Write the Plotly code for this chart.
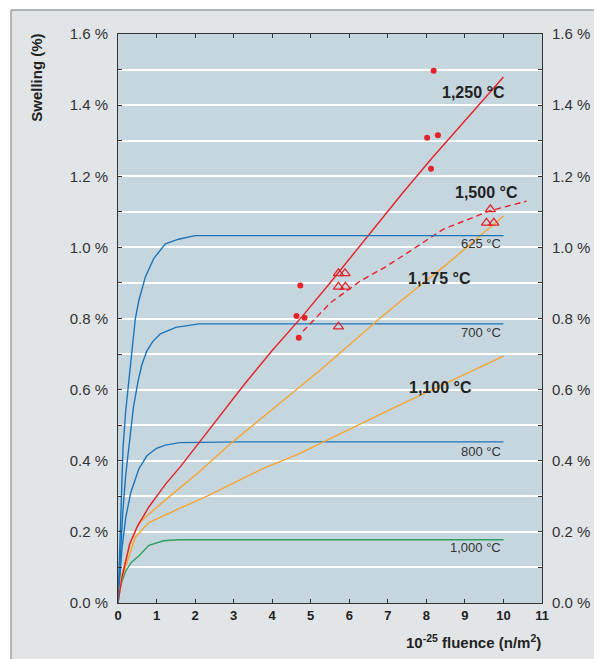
import plotly.graph_objects as go

# fluence (10^25 n/m2) vs swelling (%)
fl_625 = [0, 0.04, 0.08, 0.13, 0.2, 0.28, 0.36, 0.45, 0.54, 0.71, 0.93, 1.23, 1.57, 2.0, 10]
sw_625 = [0, 0.14, 0.28, 0.435, 0.54, 0.624, 0.7, 0.8, 0.85, 0.917, 0.969, 1.01, 1.023, 1.033, 1.033]

fl_700 = [0, 0.05, 0.12, 0.2, 0.3, 0.4, 0.52, 0.62, 0.75, 0.9, 1.1, 1.5, 2.1, 10]
sw_700 = [0, 0.12, 0.25, 0.36, 0.45, 0.55, 0.624, 0.67, 0.709, 0.735, 0.757, 0.775, 0.785, 0.785]

fl_800 = [0, 0.05, 0.1, 0.2, 0.33, 0.54, 0.75, 1.0, 1.23, 1.6, 3.2, 10]
sw_800 = [0, 0.09, 0.15, 0.24, 0.31, 0.377, 0.414, 0.435, 0.444, 0.451, 0.453, 0.453]

fl_1000 = [0, 0.05, 0.1, 0.2, 0.35, 0.54, 0.8, 1.18, 1.57, 10]
sw_1000 = [0, 0.04, 0.06, 0.09, 0.115, 0.132, 0.162, 0.175, 0.178, 0.178]

fl_1250 = [0, 0.1, 0.3, 0.5, 0.8, 1.24, 1.63, 2.1, 2.7, 3.28, 4.0, 4.78, 5.5, 6.2, 6.71,
           7.4, 8.12, 9.19, 10]
sw_1250 = [0, 0.07, 0.165, 0.215, 0.27, 0.335, 0.385, 0.45, 0.535, 0.615, 0.71, 0.806,
           0.9, 0.994, 1.06, 1.155, 1.248, 1.38, 1.479]

fl_1175 = [0, 0.1, 0.33, 0.54, 1.23, 2.08, 2.94, 4.65, 5.25, 6.79, 7.48, 8.5, 10]
sw_1175 = [0, 0.08, 0.17, 0.225, 0.29, 0.366, 0.45, 0.6, 0.655, 0.8, 0.862, 0.95, 1.088]

fl_1100 = [0, 0.1, 0.45, 0.8, 1.57, 2.34, 3.8, 4.65, 7.22, 10]
sw_1100 = [0, 0.07, 0.185, 0.226, 0.265, 0.302, 0.38, 0.417, 0.552, 0.694]

fl_1500 = [4.8, 5.51, 6.28, 6.97, 7.57, 8.42, 9.62, 10.6]
sw_1500 = [0.764, 0.844, 0.905, 0.947, 0.989, 1.05, 1.102, 1.13]

# measured points
pts_1250_x = [8.19, 8.02, 8.3, 8.12, 4.73, 4.63, 4.84, 4.69]
pts_1250_y = [1.497, 1.308, 1.315, 1.221, 0.893, 0.807, 0.802, 0.746]
pts_1500_x = [5.72, 5.89, 5.72, 5.9, 5.72, 9.66, 9.56, 9.75]
pts_1500_y = [0.927, 0.927, 0.889, 0.889, 0.777, 1.107, 1.069, 1.069]

big_labels = ["1,250 °C", "1,500 °C", "1,175 °C", "1,100 °C"]
big_x = [9.23, 9.55, 8.34, 8.36]
big_y = [1.435, 1.154, 0.912, 0.605]

small_labels = ["625 °C", "700 °C", "800 °C", "1,000 °C"]
small_y = [1.01, 0.76, 0.425, 0.155]

BLUE = "#1b75bb"
RED = "#e52228"
ORANGE = "#f7a531"
GREEN = "#2ea05e"
FONT = "Liberation Sans, Arial, sans-serif"

# page body adds an 8px margin, so the figure is 8px smaller than the window
OFF = 8
W, H = 602 - OFF, 659 - OFF
PL, PR, PT, PB = 118, 546, 34, 603   # plot area in window pixels


def px_x(p):
    return (p - PL) / (PR - PL)


def px_y(p):
    return (PB - p) / (PB - PT)


fig = go.Figure()

fig.add_trace(go.Scatter(x=fl_625, y=sw_625, mode="lines", yaxis="y2",
                         line=dict(color=BLUE, width=1.4)))
for xs, ys, col in [
    (fl_700, sw_700, BLUE),
    (fl_800, sw_800, BLUE),
    (fl_1000, sw_1000, GREEN),
    (fl_1100, sw_1100, ORANGE),
    (fl_1175, sw_1175, ORANGE),
    (fl_1250, sw_1250, RED),
]:
    fig.add_trace(go.Scatter(x=xs, y=ys, mode="lines",
                             line=dict(color=col, width=1.4)))

fig.add_trace(go.Scatter(x=fl_1500, y=sw_1500, mode="lines",
                         line=dict(color=RED, width=1.4, dash="6px,4px")))
fig.add_trace(go.Scatter(x=pts_1250_x, y=pts_1250_y, mode="markers",
                         marker=dict(color=RED, size=6, symbol="circle")))
fig.add_trace(go.Scatter(x=pts_1500_x, y=pts_1500_y, mode="markers",
                         marker=dict(color=RED, size=9, symbol="triangle-up-open",
                                     line=dict(width=1.2, color=RED))))

annotations = []
for txt, x, y in zip(big_labels, big_x, big_y):
    annotations.append(dict(x=x, y=y, text=txt, showarrow=False, xref="x", yref="y",
                            font=dict(size=16, color="#222", family=FONT, weight="bold")))
for txt, y in zip(small_labels, small_y):
    annotations.append(dict(x=10, y=y, text=txt, showarrow=False, xref="x", yref="y",
                            xanchor="right", font=dict(size=13, color="#333", family=FONT)))

annotations.append(dict(x=px_x(35), y=px_y(78), xref="paper", yref="paper",
                        xanchor="center", yanchor="middle",
                        text="Swelling (%)", textangle=-90, showarrow=False,
                        font=dict(size=15, color="#222", family=FONT, weight="bold")))
annotations.append(dict(x=px_x(547), y=px_y(641), xref="paper", yref="paper",
                        xanchor="right", yanchor="middle", showarrow=False,
                        text="10<sup>-25</sup> fluence (n/m<sup>2</sup>)",
                        font=dict(size=15, color="#222", family=FONT, weight="bold")))

# white margin + frame border at top and left
shapes = [
    dict(type="rect", xref="paper", yref="paper", x0=px_x(0), x1=px_x(620),
         y0=px_y(10), y1=px_y(0), fillcolor="white", line_width=0, layer="below"),
    dict(type="rect", xref="paper", yref="paper", x0=px_x(0), x1=px_x(10),
         y0=px_y(670), y1=px_y(0), fillcolor="white", line_width=0, layer="below"),
    dict(type="line", xref="paper", yref="paper", x0=px_x(10), x1=px_x(620),
         y0=px_y(10), y1=px_y(10), line=dict(color="#9aa2a8", width=1.5)),
    dict(type="line", xref="paper", yref="paper", x0=px_x(10), x1=px_x(10),
         y0=px_y(10), y1=px_y(670), line=dict(color="#9aa2a8", width=1.5)),
]

yaxis_common = dict(
    range=[0, 1.6], dtick=0.2, tickformat=".1f", ticksuffix=" %",
    ticks="inside", ticklen=4, tickcolor="#333", showline=True,
    linecolor="#333", linewidth=1, zeroline=False,
    tickfont=dict(size=15, color="#333", family=FONT),
)

fig.update_layout(
    width=W, height=H,
    margin=dict(l=PL - OFF, r=W - (PR - OFF), t=PT - OFF, b=H - (PB - OFF)),
    paper_bgcolor="#e1e5e8",
    plot_bgcolor="#c6d6df",
    showlegend=False,
    xaxis=dict(range=[0, 11], dtick=1, ticks="inside", ticklen=4, tickcolor="#333",
               showline=True, linecolor="#333", linewidth=1, mirror="ticks",
               showgrid=False, zeroline=False,
               tickfont=dict(size=13, color="#222", family=FONT, weight="bold")),
    yaxis=dict(**yaxis_common, showgrid=True, gridcolor="white", gridwidth=1.5,
               minor=dict(dtick=0.1, ticks="inside", ticklen=4, tickcolor="#333",
                          showgrid=True, gridcolor="white", gridwidth=1.5),
               ticklabelstandoff=6),
    yaxis2=dict(**yaxis_common, overlaying="y", side="right", showgrid=False,
                minor=dict(dtick=0.1, ticks="inside", ticklen=4, tickcolor="#333"),
                ticklabelstandoff=6),
    annotations=annotations,
    shapes=shapes,
)

fig.write_html("out.html")
